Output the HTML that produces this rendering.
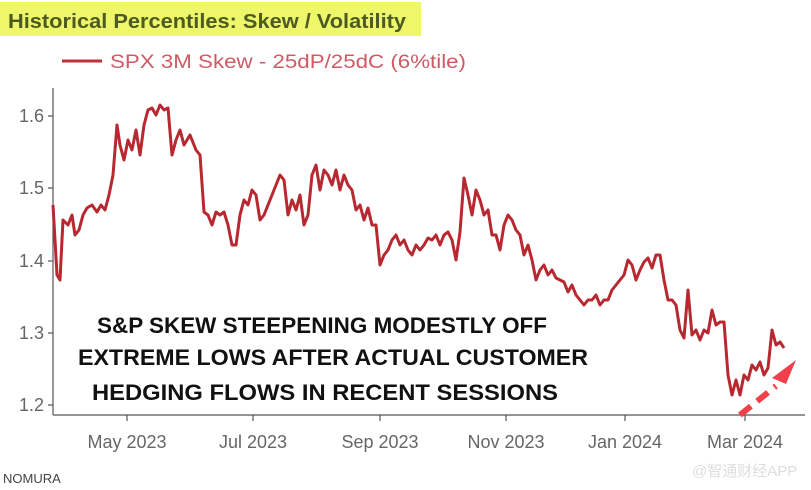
<!DOCTYPE html>
<html><head><meta charset="utf-8"><style>
html,body{margin:0;padding:0;background:#fff;width:811px;height:490px;overflow:hidden}
svg{display:block}
</style></head><body>
<svg width="811" height="490" xmlns="http://www.w3.org/2000/svg" font-family="Liberation Sans, sans-serif">
<rect x="0" y="2" width="421" height="34" fill="#eef76a"/>
<text x="8" y="28" font-size="20" font-weight="bold" fill="#4d5a22" textLength="398" lengthAdjust="spacingAndGlyphs">Historical Percentiles: Skew / Volatility</text>
<line x1="62" y1="61" x2="102" y2="61" stroke="#c0303a" stroke-width="3"/>
<text x="110" y="68" font-size="19" fill="#cf5a64" textLength="356" lengthAdjust="spacingAndGlyphs">SPX 3M Skew - 25dP/25dC (6%tile)</text>
<g stroke="#555" stroke-width="1.2">
<line x1="53" y1="88" x2="53" y2="415"/>
<line x1="53" y1="415" x2="805" y2="415"/>
<line x1="48" y1="116" x2="53" y2="116"/><line x1="48" y1="188" x2="53" y2="188"/><line x1="48" y1="261" x2="53" y2="261"/><line x1="48" y1="333" x2="53" y2="333"/><line x1="48" y1="405" x2="53" y2="405"/>
<line x1="127" y1="415" x2="127" y2="421"/><line x1="253" y1="415" x2="253" y2="421"/><line x1="380" y1="415" x2="380" y2="421"/><line x1="506" y1="415" x2="506" y2="421"/><line x1="625" y1="415" x2="625" y2="421"/><line x1="745" y1="415" x2="745" y2="421"/>
</g>
<g font-size="18" fill="#666" text-anchor="end">
<text x="44" y="122">1.6</text><text x="44" y="194">1.5</text><text x="44" y="267">1.4</text><text x="44" y="339">1.3</text><text x="44" y="411">1.2</text>
</g>
<g font-size="18" fill="#666" text-anchor="middle">
<text x="127" y="448">May 2023</text><text x="253" y="448">Jul 2023</text><text x="380" y="448">Sep 2023</text><text x="506" y="448">Nov 2023</text><text x="625" y="448">Jan 2024</text><text x="745" y="448">Mar 2024</text>
</g>
<polyline fill="none" stroke="#b82830" stroke-width="3" stroke-linejoin="round" points="53,205 57,275 60,280 63,220 68,225 72,215 75,235 79,230 83,215 87,208 92,205 97,212 101,205 105,210 109,195 113,175 117,125 120,145 124,160 128,140 132,150 136,130 140,155 144,125 148,110 152,108 156,115 160,105 164,110 168,108 172,155 176,140 180,130 184,145 190,135 196,150 200,155 204,212 208,215 212,225 216,212 220,215 224,212 228,225 232,245 236,245 240,215 244,200 248,205 252,190 256,195 260,220 264,215 268,205 272,195 276,185 280,175 284,180 288,215 292,200 296,210 300,195 304,225 308,215 312,175 316,165 320,190 324,170 328,175 332,185 336,170 340,190 344,175 348,185 352,190 356,210 360,205 364,220 368,208 372,225 376,225 380,265 384,255 388,250 392,240 396,235 400,245 404,240 408,250 412,255 416,245 420,250 424,245 428,238 432,240 436,235 440,245 444,235 448,232 452,240 456,260 460,232 464,178 468,195 472,215 476,190 480,200 484,215 488,210 492,235 496,235 500,250 504,225 508,215 512,220 516,230 520,235 524,255 528,245 532,260 536,280 540,270 544,265 548,275 552,270 556,278 560,280 564,282 568,292 572,285 576,295 580,300 584,305 588,300 592,300 596,295 600,305 604,300 608,300 612,290 616,285 620,280 624,275 628,260 632,265 636,280 640,270 644,262 648,258 652,268 656,255 660,255 664,280 668,300 672,300 676,305 680,330 684,338 688,290 692,335 696,330 700,340 704,330 708,333 712,310 716,325 720,322 724,322 728,375 732,395 736,380 740,395 744,375 748,380 752,365 756,370 760,362 764,375 768,368 772,330 776,345 780,342 784,348"/>
<line x1="740" y1="415" x2="776" y2="386" stroke="#f0404a" stroke-width="6" stroke-dasharray="14,8"/>
<polygon points="772,378 796,360 786,384" fill="#f0404a"/>
<g font-size="22" font-weight="bold" fill="#111" text-anchor="middle">
<text x="322" y="333" textLength="450" lengthAdjust="spacingAndGlyphs">S&amp;P SKEW STEEPENING MODESTLY OFF</text>
<text x="333" y="365" textLength="510" lengthAdjust="spacingAndGlyphs">EXTREME LOWS AFTER ACTUAL CUSTOMER</text>
<text x="325" y="400" textLength="466" lengthAdjust="spacingAndGlyphs">HEDGING FLOWS IN RECENT SESSIONS</text>
</g>
<text x="3" y="483" font-size="13" fill="#444">NOMURA</text>
<text x="692" y="476" font-size="15" fill="#ddd" font-family="Liberation Sans, Noto Sans CJK SC, sans-serif">@智通财经APP</text>
</svg>
</body></html>
